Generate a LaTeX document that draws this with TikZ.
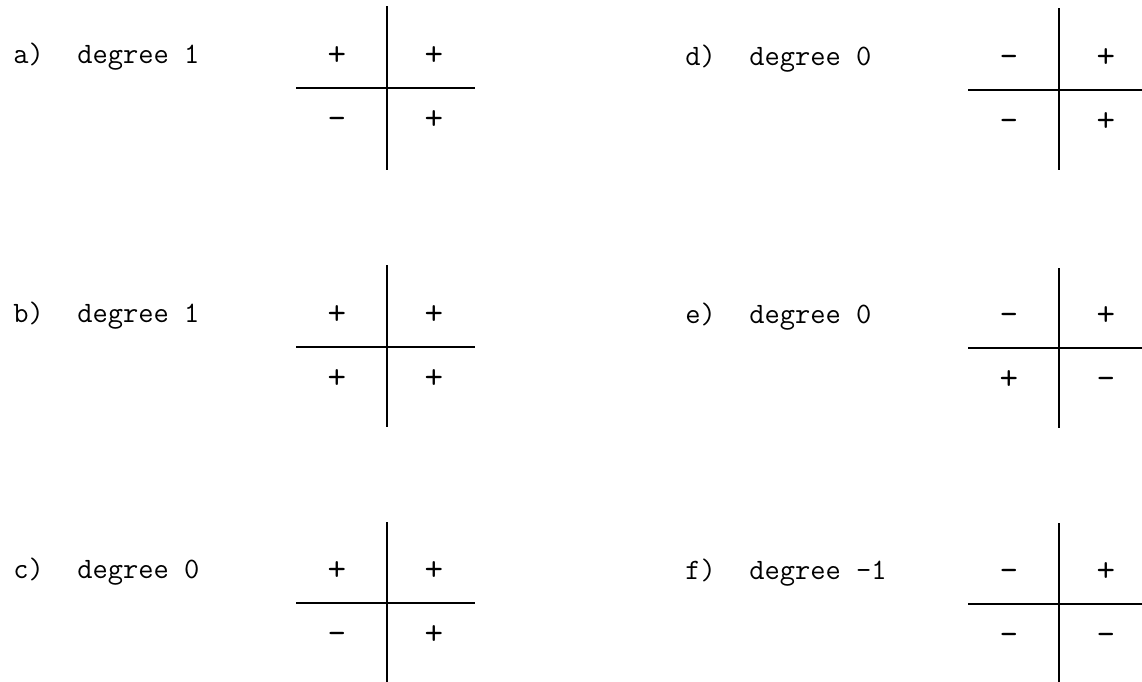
\documentclass[tikz,border=0pt]{standalone}
\usepackage{tikz}

\begin{document}
\begin{tikzpicture}[
        x=0.5pt, y=-0.5pt,
        axis/.style={line width=1.2pt, color=black},
        sign/.style={font=\fontsize{18}{18}\selectfont\ttfamily, inner sep=0pt, anchor=base},
        caption/.style={font=\fontsize{14.8}{17}\selectfont\ttfamily, inner sep=0pt, anchor=base west}
    ]
        \useasboundingbox (0,0) rectangle (1142,681);

        % panel / centre / top and bottom of the vertical line / degree / signs (ul, ur, ll, lr)
        \foreach \p/\cx/\cy/\vtop/\vbot/\deg/\ul/\ur/\ll/\lr in {
            a/387/88/6/170/1/+/+/-/+,
            b/387/347/265/427/1/+/+/+/+,
            c/387/603/522/684/0/+/+/-/+,
            d/1059/90/8/170/0/-/+/-/+,
            e/1059/348/268/428/0/-/+/+/-,
            f/1059/604/523/684/-1/-/+/-/-}{
            \coordinate (\p-n) at (\cx,\vtop);
            \coordinate (\p-s) at (\cx,\vbot);
            \coordinate (\p-w) at (\cx-91,\cy);
            \coordinate (\p-e) at (\cx+88,\cy);
            \draw[axis] (\p-n) -- (\p-s);
            \draw[axis] (\p-w) -- (\p-e);

            % signs sit on a baseline 9px below their centre
            \node[sign] (\p-ul) at (\cx-50,\cy-23) {\ul};
            \node[sign] (\p-ur) at (\cx+47,\cy-23) {\ur};
            \node[sign] (\p-ll) at (\cx-50,\cy+41) {\ll};
            \node[sign] (\p-lr) at (\cx+47,\cy+41) {\lr};

            \node[caption] (\p-tag) at (\cx-374,\cy-25) {\p)};
            \node[caption] (\p-deg) at (\cx-310,\cy-25) {degree \deg};
        }
    \end{tikzpicture}
\end{document}
